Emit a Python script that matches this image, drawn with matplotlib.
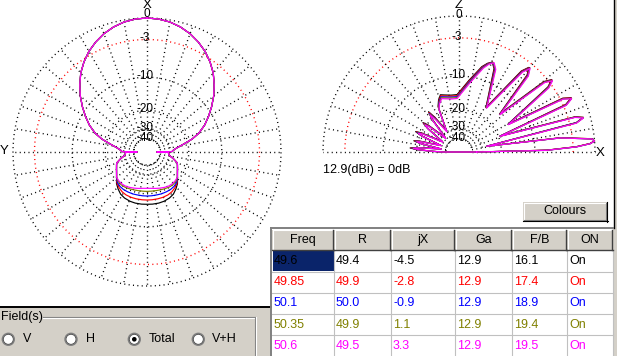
import numpy as np
import matplotlib
matplotlib.use("Agg")
import matplotlib.pyplot as plt
from matplotlib.patches import Rectangle, Circle

plt.rcParams['font.family'] = ['Liberation Sans', 'DejaVu Sans']

W, H = 617, 356

# ---------------- data ----------------
series_colors = ['#000000', '#ff0000', '#0000ff', '#808000', '#ff00ff']

table_headers = ['Freq', 'R', 'jX', 'Ga', 'F/B', 'ON']
freq = ['49.6', '49.85', '50.1', '50.35', '50.6']
r_ohm = ['49.4', '49.9', '50.0', '49.9', '49.5']
jx = ['-4.5', '-2.8', '-0.9', '1.1', '3.3']
ga = ['12.9', '12.9', '12.9', '12.9', '12.9']
fb = ['16.1', '17.4', '18.9', '19.4', '19.5']
on = ['On', 'On', 'On', 'On', 'On']

ring_db = [0, -3, -10, -20, -30, -40]
ring_labels = ['0', '-3', '-10', '-20', '-30', '-40']
gain_dbi = '12.9'

# Azimuth (horizontal plane) pattern, degrees from X (symmetric about X)
az_front_deg = [0, 5, 10, 15, 20, 25, 30, 35, 40, 45, 50, 55, 60, 65, 70, 74, 78, 82, 86, 89, 90]
az_front_db = [0, -0.07, -0.26, -0.6, -1.07, -1.7, -2.45, -3.4, -4.5, -5.9, -7.4, -9.1,
               -10.9, -12.8, -15.2, -18.0, -22.0, -25.5, -27.8, -28.8, -45.0]
az_back_deg = [91, 98, 104, 110, 113, 119, 125, 130, 136, 142, 148, 154, 161, 167, 174, 180]
az_back_side_db = [-31.5, -30.8, -27.5, -24.4, -24.0, -23.1, -22.0]
az_back_db_496 = [-20.85, -19.15, -18.0, -17.0, -16.5, -16.2, -16.1, -16.1, -16.15]
az_back_db_4985 = [-20.85, -19.4, -18.6, -18.0, -17.7, -17.6, -17.6, -17.6, -17.6]
az_back_db_501 = [-20.85, -19.7, -19.2, -19.0, -19.0, -19.0, -19.1, -19.1, -19.1]
az_back_db_5035 = [-20.85, -20.2, -20.0, -20.1, -20.4, -20.7, -20.9, -21.0, -21.0]
az_back_db_506 = [-20.9, -20.6, -20.5, -20.6, -21.0, -21.5, -21.9, -22.3, -22.4]

# Elevation (vertical plane) pattern, degrees from X towards Z
el_front_db = [-35, -7.5, -2.5, -0.6, 0.0, -0.3, -4.9, -27,
               -2.0, -0.9, -2.0, -19.4,
               -2.6, -1.5, -2.6, -15.1,
               -3.6, -2.5, -3.6, -15.4,
               -4.8, -3.7, -4.9, -16.5]

el_deg_496 = [0, 1.2, 2.6, 3.7, 4.7, 5.7, 8.0, 11.8,
              14.1, 15.6, 16.9, 21.3,
              24.0, 25.8, 27.4, 29.6,
              36.2, 38.0, 39.7, 43.1,
              48.5, 50.5, 52.4, 58.8,
              67.2, 69.7, 72.2, 75.0, 82.0, 88.0, 92.0, 98.0, 104.0, 108.0, 111.5, 114.6, 120.2,
              124.9, 127.1, 129.1, 133.7,
              138.9, 140.8, 142.7, 147.8,
              153.1, 154.8, 156.5, 160.0,
              164.6, 166.0, 167.4, 170.2,
              174.0, 175.3, 176.6, 178.4, 180]
el_tail_db_496 = [-7.0, -6.0, -6.5, -7.4, -10.8, -13.4, -14.8, -14.8, -14.4, -14.0, -15.3, -17.1, -29,
                  -20, -17.0, -20, -33, -20.5, -18.4, -21, -33,
                  -20, -17.9, -20.5, -33, -20.5, -18.4, -21, -34,
                  -20, -17.5, -20, -27, -36]

el_deg_4985 = [0, 1.2, 2.6, 3.7, 4.7, 5.7, 8.0, 11.7,
               14.0, 15.5, 16.8, 21.1,
               23.9, 25.7, 27.3, 29.4,
               36.0, 37.8, 39.5, 42.8,
               48.3, 50.3, 52.2, 58.5,
               66.9, 69.4, 71.9, 74.7, 81.8, 87.9, 92.0, 98.0, 104.0, 108.0, 111.6, 114.8, 120.4,
               125.1, 127.3, 129.3, 133.8,
               139.1, 141.0, 142.9, 148.0,
               153.2, 154.9, 156.6, 160.1,
               164.7, 166.1, 167.5, 170.3,
               174.0, 175.3, 176.6, 178.4, 180]
el_tail_db_4985 = [-7.0, -6.0, -6.5, -7.45, -10.95, -13.6, -15.1, -15.1, -14.7, -14.3, -15.6, -17.4, -29.2,
                   -20.1, -17.3, -20.1, -33.2, -20.6, -18.7, -21.1, -33.2,
                   -20.1, -18.2, -20.6, -33.2, -20.6, -18.7, -21.1, -34.2,
                   -20.1, -17.8, -20.1, -27.3, -36.3]

el_deg_501 = [0, 1.1, 2.5, 3.6, 4.6, 5.6, 7.9, 11.7,
              14.0, 15.4, 16.7, 21.1,
              23.7, 25.5, 27.1, 29.3,
              35.8, 37.6, 39.3, 42.6,
              48.0, 50.0, 51.9, 58.2,
              66.6, 69.1, 71.6, 74.4, 81.5, 87.7, 92.0, 98.0, 104.0, 108.0, 111.8, 115.0, 120.6,
              125.4, 127.6, 129.6, 134.1,
              139.3, 141.2, 143.1, 148.2,
              153.4, 155.1, 156.8, 160.3,
              164.8, 166.2, 167.6, 170.4,
              174.1, 175.4, 176.7, 178.5, 180]
el_tail_db_501 = [-7.0, -6.0, -6.5, -7.5, -11.1, -13.9, -15.4, -15.4, -15.0, -14.6, -15.9, -17.7, -29.4,
                  -20.4, -17.6, -20.4, -33.4, -20.9, -19.0, -21.4, -33.4,
                  -20.4, -18.5, -20.9, -33.4, -20.9, -19.0, -21.4, -34.4,
                  -20.4, -18.1, -20.4, -27.4, -36.4]

el_deg_5035 = [0, 1.1, 2.5, 3.6, 4.6, 5.6, 7.9, 11.6,
               13.9, 15.4, 16.7, 21.0,
               23.6, 25.4, 27.0, 29.1,
               35.7, 37.5, 39.2, 42.5,
               47.8, 49.8, 51.7, 58.0,
               66.3, 68.8, 71.3, 74.1, 81.2, 87.5, 92.0, 98.0, 104.0, 108.0, 111.9, 115.1, 120.8,
               125.6, 127.8, 129.8, 134.3,
               139.4, 141.3, 143.2, 148.3,
               153.5, 155.2, 156.9, 160.4,
               164.8, 166.2, 167.6, 170.4,
               174.1, 175.4, 176.7, 178.5, 180]
el_tail_db_5035 = [-7.0, -6.0, -6.5, -7.55, -11.25, -14.1, -15.7, -15.7, -15.3, -14.9, -16.2, -18.0, -29.7,
                   -20.7, -17.9, -20.7, -33.7, -21.2, -19.3, -21.7, -33.7,
                   -20.7, -18.8, -21.2, -33.7, -21.2, -19.3, -21.7, -34.7,
                   -20.7, -18.4, -20.7, -27.7, -36.7]

el_deg_506 = [0, 1.1, 2.5, 3.6, 4.6, 5.6, 7.9, 11.6,
              13.8, 15.3, 16.6, 20.9,
              23.5, 25.3, 26.9, 29.0,
              35.5, 37.3, 39.0, 42.3,
              47.6, 49.6, 51.5, 57.8,
              66.0, 68.5, 71.0, 73.8, 81.0, 87.4, 92.0, 98.0, 104.0, 108.0, 112.0, 115.3, 121.0,
              125.8, 128.0, 130.0, 134.5,
              139.6, 141.5, 143.4, 148.5,
              153.6, 155.3, 157.0, 160.5,
              164.9, 166.3, 167.7, 170.5,
              174.1, 175.4, 176.7, 178.5, 180]
el_tail_db_506 = [-7.0, -6.0, -6.5, -7.6, -11.4, -14.3, -16.0, -16.0, -15.6, -15.2, -16.5, -18.3, -30,
                  -21, -18.2, -21, -34, -21.5, -19.6, -22, -34,
                  -21, -19.1, -21.5, -34, -21.5, -19.6, -22, -35,
                  -21, -18.7, -21, -28, -37]

az_back_all = [az_back_db_496, az_back_db_4985, az_back_db_501, az_back_db_5035, az_back_db_506]
el_deg_all = [el_deg_496, el_deg_4985, el_deg_501, el_deg_5035, el_deg_506]
el_tail_all = [el_tail_db_496, el_tail_db_4985, el_tail_db_501, el_tail_db_5035, el_tail_db_506]


# ---------------- ARRL-style log radial scale ----------------
def fwd(d):
    return np.power(0.89, -np.asarray(d, dtype=float) / 2.0)


def inv(r):
    r = np.clip(np.asarray(r, dtype=float), 1e-12, None)
    return -2.0 * np.log(r) / np.log(0.89)


fig = plt.figure(figsize=(W / 100, H / 100), dpi=100)
fig.patch.set_facecolor('white')


def polar_ax(cx, cy, R, zero_loc):
    ax = fig.add_axes([(cx - R) / W, (H - cy - R) / H, 2 * R / W, 2 * R / H],
                      projection='polar')
    ax.set_theta_zero_location(zero_loc)
    ax.set_rscale('function', functions=(fwd, inv))
    ax.set_rlim(-150, 0)
    ax.grid(False)
    ax.set_xticks([])
    ax.set_yticks([])
    ax.spines['polar'].set_visible(False)
    ax.patch.set_visible(False)
    return ax


dot = dict(lw=1.0, ls=(0, (0.75, 2.4)), clip_on=False)
pat = dict(lw=0.85, clip_on=False)

# ---- left: azimuth ----
axL = polar_ax(147, 152, 134, 'N')
th = np.radians(np.linspace(0, 360, 721))
for d in ring_db:
    axL.plot(th, np.full_like(th, d), color=('red' if d == -3 else 'black'), **dot)
for a in range(0, 360, 10):
    axL.plot(np.radians([a, a]), [-40, 0], color='black', **dot)

for back, col in zip(az_back_all, series_colors):
    half_deg = az_front_deg + az_back_deg
    half_db = az_front_db + az_back_side_db + back
    full_deg = half_deg + [360 - a for a in half_deg[::-1][1:]]
    full_db = half_db + half_db[::-1][1:]
    axL.plot(np.radians(full_deg), full_db, color=col, **pat)

for d, lbl in zip(ring_db, ring_labels):
    axL.annotate(lbl, xy=(0, d), xytext=((0 if d == 0 else -2), (4 if d == 0 else 1)),
                 textcoords='offset pixels', ha='center', va='center', fontsize=8.5,
                 annotation_clip=False)
axL.set_rlim(-150, 0)

# ---- right: elevation ----
axR = polar_ax(459, 152, 136, 'E')
th2 = np.radians(np.linspace(0, 180, 361))
for d in ring_db:
    axR.plot(th2, np.full_like(th2, d), color=('red' if d == -3 else 'black'), **dot)
for a in range(0, 181, 10):
    axR.plot(np.radians([a, a]), [-40, 0], color='black', **dot)

for degs, tail, col in zip(el_deg_all, el_tail_all, series_colors):
    dbs = el_front_db + tail
    axR.plot(np.radians(degs + [degs[0]]), dbs + [dbs[0]], color=col, **pat)

for d, lbl in zip(ring_db, ring_labels):
    axR.annotate(lbl, xy=(np.pi / 2, d), xytext=((0 if d == 0 else -2), 1),
                 textcoords='offset pixels', ha='center', va='center', fontsize=8.5,
                 annotation_clip=False)
axR.set_rlim(-150, 0)

# ---------------- UI overlay (pixel coordinates) ----------------
ui = fig.add_axes([0, 0, 1, 1])
ui.set_xlim(0, W)
ui.set_ylim(H, 0)
ui.axis('off')
ui.patch.set_visible(False)

GRAY = '#d4d0c8'
DARK = '#808080'

# axis letters
ui.text(147.5, 5, 'X', ha='center', va='center', fontsize=9.5)
ui.text(4.5, 151.5, 'Y', ha='center', va='center', fontsize=9.5)
ui.text(459, 5.5, 'Z', ha='center', va='center', fontsize=9.5)
ui.text(600, 152.5, 'X', ha='center', va='center', fontsize=9.5)

ui.text(323, 170, gain_dbi + '(dBi) = 0dB', ha='left', va='center', fontsize=9)

# right edge strip
ui.add_patch(Rectangle((613.5, 0), 4, H, fc=GRAY, ec='none', zorder=5))
ui.plot([613.5, 613.5], [0, 228], color='black', lw=1.0, zorder=6)

# Colours button
ui.add_patch(Rectangle((523, 202), 84, 19, fc=GRAY, ec='none', zorder=5))
ui.plot([523.5, 606.5], [202.5, 202.5], color='white', lw=0.8, zorder=6)
ui.plot([523.5, 523.5], [202.5, 220.5], color='white', lw=0.8, zorder=6)
ui.plot([524, 606], [220, 220], color=DARK, lw=0.8, zorder=6)
ui.plot([606, 606], [203, 220], color=DARK, lw=0.8, zorder=6)
ui.plot([523, 607.5], [221.2, 221.2], color='black', lw=0.8, zorder=6)
ui.plot([607.3, 607.3], [202, 221.5], color='black', lw=0.8, zorder=6)
ui.text(565, 211.5, 'Colours', ha='center', va='center', fontsize=9, zorder=7)

# bottom-left Field(s) panel
ui.add_patch(Rectangle((0, 307), 271, H - 307, fc=GRAY, ec='none', zorder=5))
ui.plot([0, 271], [307.2, 307.2], color='black', lw=1.4, zorder=6)
ui.plot([43, 255], [317, 317], color=DARK, lw=0.8, zorder=6)
ui.plot([43, 254], [318, 318], color='white', lw=0.8, zorder=6)
ui.plot([255, 255], [317, H], color=DARK, lw=0.8, zorder=6)
ui.plot([256, 256], [317, H], color='white', lw=0.8, zorder=6)
ui.text(0.5, 317, 'Field(s)', ha='left', va='center', fontsize=9, zorder=7)
radio_x = [8.3, 71.0, 134.3, 198.3]
radio_labels = ['V', 'H', 'Total', 'V+H']
radio_label_x = [23.3, 86.0, 148.3, 212.3]
radio_selected = 'Total'
for cx, lbl, lx in zip(radio_x, radio_labels, radio_label_x):
    ui.add_patch(Circle((cx, 339.3), 6.0, fc='white', ec=DARK, lw=1.0, zorder=6))
    ui.add_patch(Circle((cx, 339.3), 5.0, fc='none', ec='#404040', lw=0.6, zorder=6))
    if lbl == radio_selected:
        ui.add_patch(Circle((cx, 339.3), 2.3, fc='black', ec='none', zorder=7))
    ui.text(lx, 339.3, lbl, ha='left', va='center', fontsize=9, zorder=7)

# table
col_x = [272, 334, 391, 455, 512, 567, 612.5]
row_y = [250, 271.5, 292.75, 314, 335.25, 356.5]
ui.add_patch(Rectangle((270.5, 227.5), 343, H - 227.5, fc='white', ec='none', zorder=5))
ui.add_patch(Rectangle((612.5, 227.5), 5, H - 227.5, fc=GRAY, ec='none', zorder=5))
for i, h in enumerate(table_headers):
    x0, x1 = col_x[i], col_x[i + 1]
    ui.add_patch(Rectangle((x0, 229.5), x1 - x0, 20.5, fc=GRAY, ec='none', zorder=6))
    ui.plot([x0 + 1, x1 - 1], [230.3, 230.3], color='white', lw=0.8, zorder=7)
    ui.plot([x0 + 1, x0 + 1], [230.3, 249], color='white', lw=0.8, zorder=7)
    ui.plot([x1 - 0.8, x1 - 0.8], [229.5, 250], color='#404040', lw=1.0, zorder=7)
    ui.plot([x0, x1], [249.5, 249.5], color='#404040', lw=1.0, zorder=7)
    ui.text((x0 + x1) / 2, 240, h, ha='center', va='center', fontsize=9, zorder=8)
ui.add_patch(Rectangle((col_x[0] + 0.5, row_y[0] + 0.5), col_x[1] - col_x[0] - 1,
                       row_y[1] - row_y[0] - 1, fc='#0a246a', ec='none', zorder=6))
for y in row_y[1:]:
    ui.plot([col_x[0], col_x[-1]], [y, y], color='#c0c0c0', lw=0.8, zorder=6)
for x in col_x[1:]:
    ui.plot([x, x], [row_y[0], H], color='#c0c0c0', lw=0.8, zorder=6)
ui.plot([271, 271], [228, H], color=DARK, lw=1.4, zorder=7)
ui.plot([271, 613], [228.3, 228.3], color=DARK, lw=1.4, zorder=7)
columns = [freq, r_ohm, jx, ga, fb, on]
for r in range(len(freq)):
    yc = (row_y[r] + row_y[r + 1]) / 2
    for c, colvals in enumerate(columns):
        ui.text(col_x[c] + 2, yc, colvals[r], ha='left', va='center', fontsize=9,
                color=series_colors[r], zorder=8)

fig.savefig('out.png', dpi=100, facecolor='white')
